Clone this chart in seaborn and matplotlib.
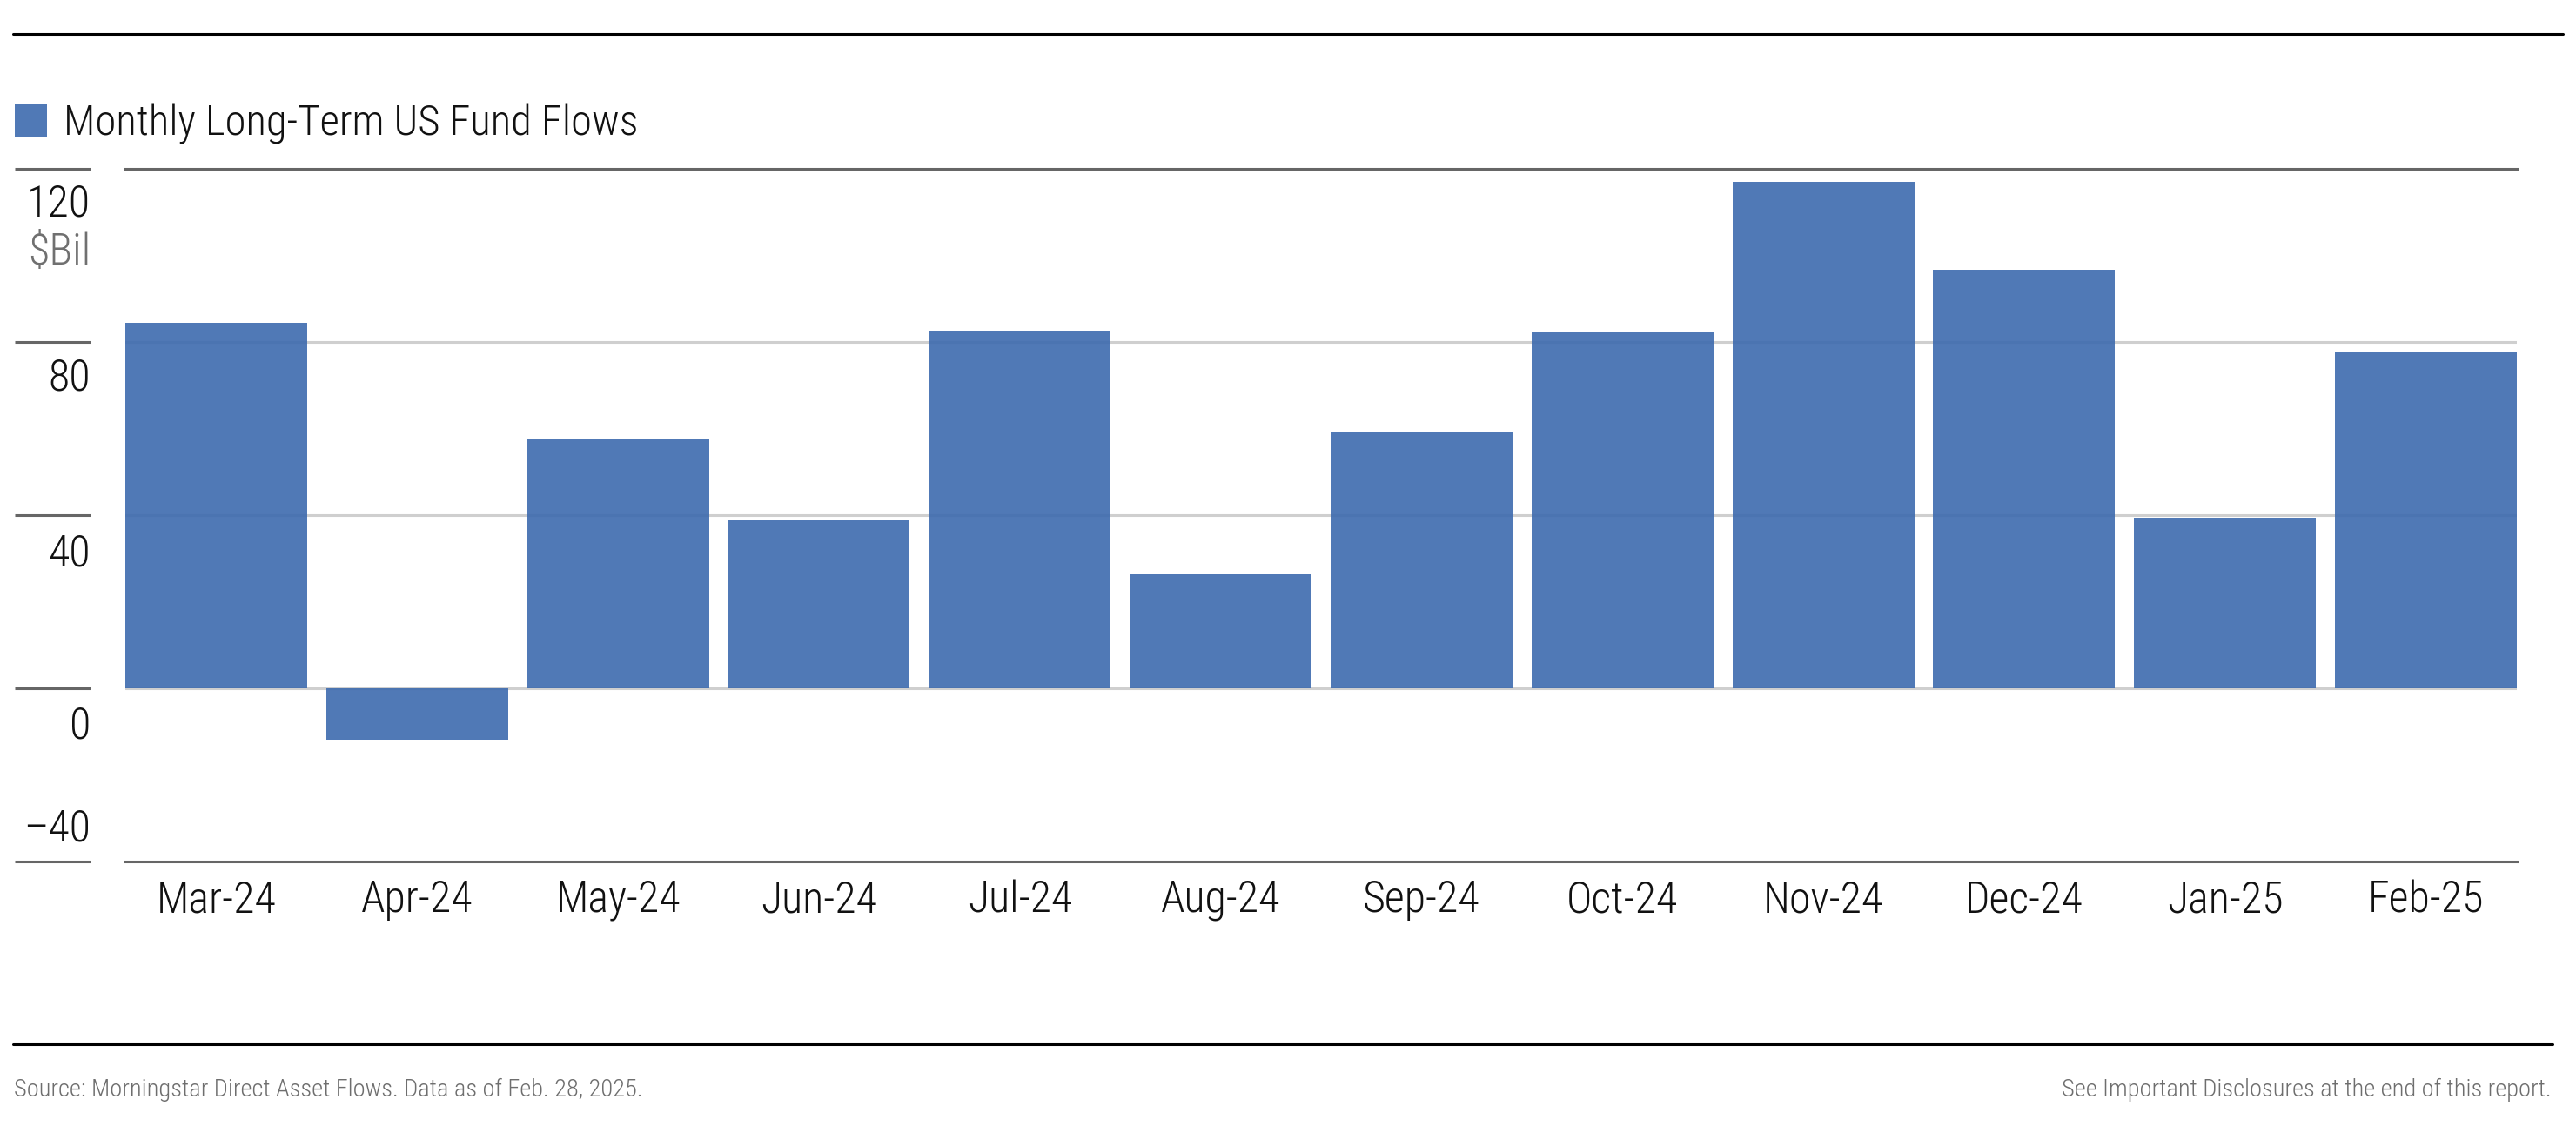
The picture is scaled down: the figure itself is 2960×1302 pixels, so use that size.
import matplotlib
matplotlib.use("Agg")
import matplotlib.pyplot as plt
import matplotlib.transforms as mtransforms
from matplotlib.lines import Line2D
from matplotlib.patches import Rectangle
from matplotlib import font_manager
import seaborn as sns
import pandas as pd

# ---------------- data ----------------
months = ["Mar-24", "Apr-24", "May-24", "Jun-24", "Jul-24", "Aug-24",
          "Sep-24", "Oct-24", "Nov-24", "Dec-24", "Jan-25", "Feb-25"]
flows = [84.5, -11.8, 57.4, 38.7, 82.6, 26.3, 59.2, 82.4, 116.9, 96.6, 39.3, 77.5]
y_ticks = [120, 80, 40, 0, -40]
y_tick_labels = ["120", "80", "40", "0", "\u201340"]
series_name = "Monthly Long-Term US Fund Flows"
unit_label = "$Bil"
source_text = "Source: Morningstar Direct Asset Flows. Data as of Feb. 28, 2025."
disclosure_text = "See Important Disclosures at the end of this report."

# ---------------- style ----------------
sns.set_theme(style="white")
installed = {f.name for f in font_manager.fontManager.ttflist}
cands = ["Roboto Condensed", "DejaVu Sans Condensed", "Liberation Sans Narrow",
         "Open Sans Condensed", "Roboto", "DejaVu Sans"]
fams = [c for c in cands if c in installed] or ["DejaVu Sans"]
plt.rcParams["font.family"] = fams
plt.rcParams["font.stretch"] = "condensed"
plt.rcParams["font.weight"] = "light"

W, H = 2960, 1302
fig = plt.figure(figsize=(W / 100, H / 100), dpi=100)
fig.patch.set_facecolor("white")

bar_color = "#3D6AAE"
ax_left, ax_right = 144, 2892
ax_top, ax_bot = 194, 990
ax = fig.add_axes([ax_left / W, 1 - ax_bot / H, (ax_right - ax_left) / W, (ax_bot - ax_top) / H])

df = pd.DataFrame({"Month": months, "Flow": flows})
bar_w = 0.9055
sns.barplot(data=df, x="Month", y="Flow", color=bar_color, saturation=1,
            alpha=0.9, width=bar_w, ax=ax, zorder=3, linewidth=0)

for y in y_ticks[1:-1]:
    ax.axhline(y, color="#cfcfcf", lw=2.2, zorder=1)

ax.set_ylim(-40, 120)
ax.set_xlim(-bar_w / 2, len(months) - 1 + bar_w / 2)
ax.set_yticks([])
ax.set_xlabel("")
ax.set_ylabel("")
for s in ["left", "right"]:
    ax.spines[s].set_visible(False)
for s in ["top", "bottom"]:
    ax.spines[s].set_color("#666666")
    ax.spines[s].set_linewidth(2.2)
ax.tick_params(axis="x", length=0, labelsize=36, pad=15, labelcolor="#111111")

# left tick segments and labels
trans = mtransforms.blended_transform_factory(fig.transFigure, ax.transData)
label_offsets = [-41, -42, -45, -44, 37]
for y, lab, off in zip(y_ticks, y_tick_labels, label_offsets):
    ax.add_line(Line2D([17 / W, 104 / W], [y, y], transform=trans, color="#666666",
                       lw=2.2, clip_on=False, solid_capstyle="butt"))
    t = mtransforms.offset_copy(trans, fig=fig, y=off, units="dots")
    ax.text(104 / W, y, lab, transform=t, ha="right", va="center",
            fontsize=36, color="#111111", clip_on=False)
t = mtransforms.offset_copy(trans, fig=fig, y=-96, units="dots")
ax.text(104 / W, y_ticks[0], unit_label, transform=t, ha="right", va="center",
        fontsize=36, color="#707070", clip_on=False)

# legend
fig.add_artist(Rectangle((17 / W, 1 - 157 / H), 37 / W, 37 / H, transform=fig.transFigure,
                         facecolor=bar_color, alpha=0.9, edgecolor="none"))
fig.text(73 / W, 1 - 156 / H, series_name, ha="left", va="baseline",
         fontsize=35, color="#111111")

# rules
fig.add_artist(Line2D([15 / W, 2945 / W], [1 - 38.5 / H] * 2, transform=fig.transFigure,
                      color="black", lw=2.2))
fig.add_artist(Line2D([15 / W, 2933 / W], [1 - 1200 / H] * 2, transform=fig.transFigure,
                      color="black", lw=2.2))

# footer
fig.text(16 / W, 1 - 1260 / H, source_text, ha="left", va="baseline",
         fontsize=20.5, color="#6e6e6e")
fig.text(2932 / W, 1 - 1260 / H, disclosure_text, ha="right", va="baseline",
         fontsize=20.5, color="#6e6e6e")

fig.savefig("out.png", dpi=100, facecolor="white")
